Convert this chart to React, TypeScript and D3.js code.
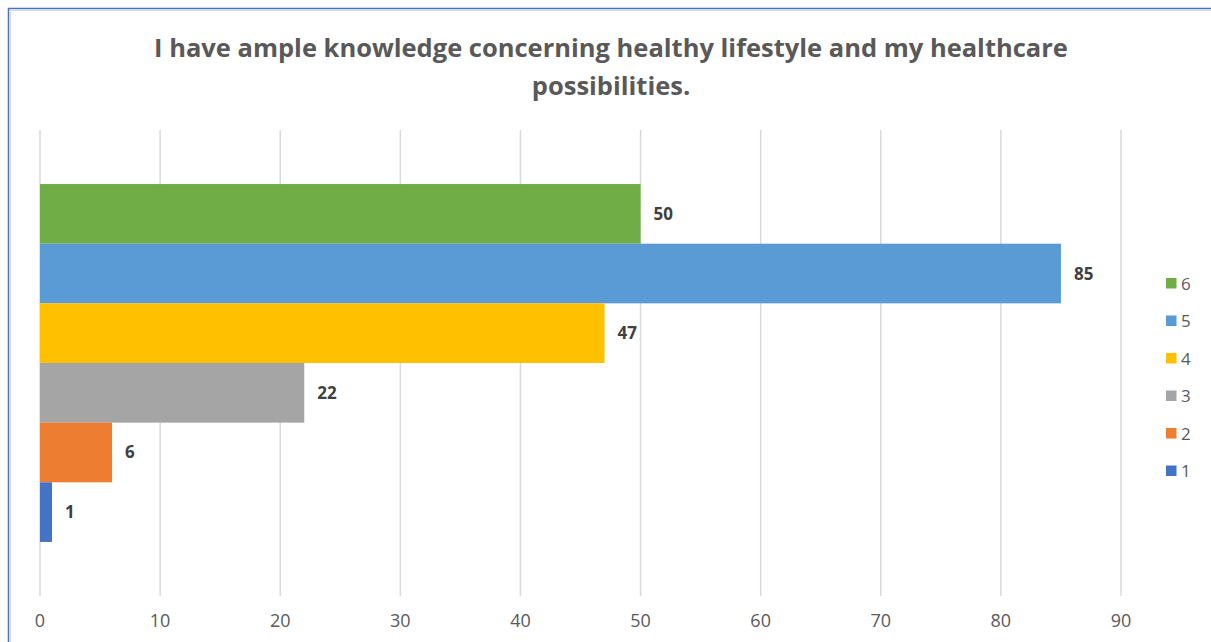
import React from "react";
import * as d3 from "d3";

const titleLines = ["I have ample knowledge concerning healthy lifestyle and my healthcare", "possibilities."];
const seriesNames = ["6", "5", "4", "3", "2", "1"];
const seriesValues = [50, 85, 47, 22, 6, 1];
const seriesColors = ["#70AD47", "#5B9BD5", "#FFC000", "#A5A5A5", "#ED7D31", "#4472C4"];
const xTicks = [0, 10, 20, 30, 40, 50, 60, 70, 80, 90];

const W = 1211, H = 642;
const FONT = "'Open Sans', 'Noto Sans', sans-serif";

export default function App() {
  const x = d3.scaleLinear().domain([0, 90]).range([40, 1121]);
  const plotTop = 130, plotBottom = 596;
  const outer = d3.scaleBand<string>().domain(["c"]).range([plotTop, plotBottom]).paddingInner(0).paddingOuter(0.151);
  const inner = d3.scaleBand<string>().domain(seriesNames).range([0, outer.bandwidth()]).padding(0);
  const y0 = outer("c") as number;

  return (
    <svg width={W} height={H} style={{ position: "absolute", left: 0, top: 0, background: "#fff" }}>
      <rect x={0} y={0} width={W} height={H} fill="#fff" />
      <line x1={8.5} y1={8} x2={8.5} y2={H} stroke="#4472C4" strokeWidth={1.5} />
      <line x1={8} y1={8.5} x2={W} y2={8.5} stroke="#4472C4" strokeWidth={1.5} />
      <line x1={10} y1={10.5} x2={W} y2={10.5} stroke="#D9D9D9" strokeWidth={1} />
      <line x1={10.5} y1={10} x2={10.5} y2={H} stroke="#D9D9D9" strokeWidth={1} />
      {titleLines.map((t, i) => (
        <text key={i} x={611} y={57 + i * 38} textAnchor="middle" fontFamily={FONT} fontWeight="bold" fontSize={25.5} fill="#595959">{t}</text>
      ))}
      {xTicks.map((t) => (
        <g key={t}>
          <line x1={x(t)} x2={x(t)} y1={plotTop} y2={plotBottom} stroke="#D9D9D9" strokeWidth={1.5} />
          <text x={x(t)} y={627} textAnchor="middle" fontFamily={FONT} fontSize={18} fill="#595959">{t}</text>
        </g>
      ))}
      {seriesNames.map((s, i) => {
        const yy = y0 + (inner(s) as number);
        return (
          <g key={s}>
            <rect x={x(0)} y={yy} width={x(seriesValues[i]) - x(0)} height={inner.bandwidth()} fill={seriesColors[i]} />
            <text x={x(seriesValues[i]) + 13} y={yy + inner.bandwidth() / 2 + 6} fontFamily={FONT} fontWeight="bold" fontSize={17} fill="#404040">{seriesValues[i]}</text>
          </g>
        );
      })}
      {seriesNames.map((s, i) => (
        <g key={"l" + s}>
          <rect x={1166} y={278 + i * 37.5} width={10.5} height={10.5} fill={seriesColors[i]} />
          <text x={1181} y={289.5 + i * 37.5} fontFamily={FONT} fontSize={17} fill="#595959">{s}</text>
        </g>
      ))}
    </svg>
  );
}
